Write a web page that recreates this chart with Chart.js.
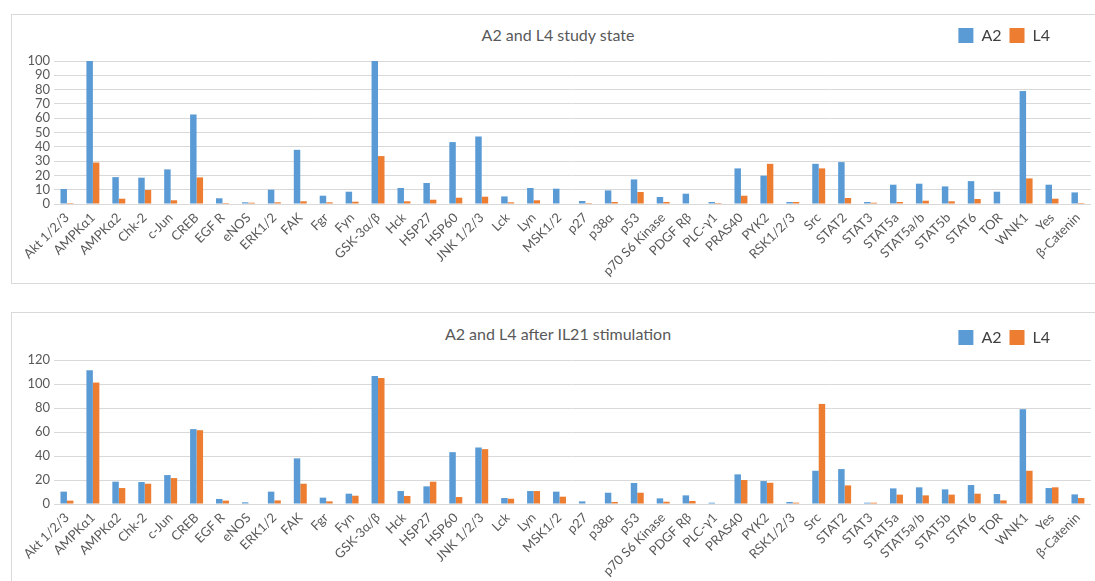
<!DOCTYPE html>
<html>
<head>
<meta charset="utf-8">
<script src="https://cdn.jsdelivr.net/npm/chart.js@4.4.1/dist/chart.umd.min.js"></script>
<style>
  body { margin: 0; background: #fff; width: 1095px; height: 581px; overflow: hidden; position: relative; font-family: Lato, sans-serif; }
  .frame { position: absolute; left: 11px; width: 1100px; border: 1px solid #d9d9d9; box-sizing: border-box; }
  .title { position: absolute; left: 0; width: 1116px; text-align: center; font-size: 16px; line-height: 20px; color: #595959; }
  canvas { position: absolute; left: 0; }
</style>
</head>
<body>
<div class="frame" style="top:14px;height:270px"></div>
<div class="frame" style="top:312px;height:280px"></div>
<div class="title" style="top:25px">A2 and L4 study state</div>
<div class="title" style="top:324px">A2 and L4 after IL21 stimulation</div>
<canvas id="studyChart" width="1095" height="270" style="top:14px"></canvas>
<canvas id="il21Chart" width="1095" height="269" style="top:312px"></canvas>
<script>
// --- DATA ---
const categories = ['Akt 1/2/3', 'AMPKα1', 'AMPKα2', 'Chk-2', 'c-Jun', 'CREB', 'EGF R', 'eNOS', 'ERK1/2', 'FAK',
    'Fgr', 'Fyn', 'GSK-3α/β', 'Hck', 'HSP27', 'HSP60', 'JNK 1/2/3', 'Lck', 'Lyn', 'MSK1/2',
    'p27', 'p38α', 'p53', 'p70 S6 Kinase', 'PDGF Rβ', 'PLC-γ1', 'PRAS40', 'PYK2', 'RSK1/2/3', 'Src',
    'STAT2', 'STAT3', 'STAT5a', 'STAT5a/b', 'STAT5b', 'STAT6', 'TOR', 'WNK1', 'Yes', 'β-Catenin'];

const studyA2 = [10.5, 100, 18.8, 18.4, 24.2, 62.6, 4, 1.2, 10, 37.9,
    5.8, 8.6, 100, 11.2, 14.7, 43.3, 47.2, 5.3, 11.2, 10.7,
    2.1, 9.5, 17.2, 4.9, 7.2, 1.4, 24.9, 19.8, 1.4, 28.1,
    29.3, 1.4, 13.5, 14.2, 12.3, 16, 8.6, 79, 13.5, 8.1];
const studyL4 = [0.7, 29, 3.7, 9.8, 2.6, 18.6, 0.7, 0.9, 1.2, 1.9,
    1.2, 1.6, 33.5, 1.9, 3, 4.4, 5.1, 1.2, 2.6, 0,
    0.7, 1.4, 8.4, 1.4, 0, 0.7, 5.8, 28.1, 1.4, 24.9,
    4.2, 0.9, 1.4, 2.3, 1.9, 3.5, 0, 17.9, 3.7, 0.7];

const il21A2 = [10.3, 111.4, 18.6, 18.3, 24.1, 62.4, 4.2, 1.4, 10.3, 38,
    5.3, 8.6, 106.7, 10.8, 14.7, 43.2, 47.1, 5, 10.8, 10.3,
    2.2, 9.4, 17.5, 4.7, 7.2, 1.1, 24.7, 19.1, 1.7, 27.7,
    29.1, 1.1, 13, 13.9, 12.2, 15.8, 8.3, 79, 13.3, 8];
const il21L4 = [2.8, 101.2, 13.3, 16.9, 21.6, 61.5, 2.8, 0, 3, 16.9,
    2.2, 6.9, 105, 6.7, 18.6, 5.8, 45.7, 4.4, 10.8, 6.1,
    0, 1.7, 9.4, 1.9, 2.5, 0, 20, 17.7, 1.1, 83.4,
    15.5, 1.1, 7.8, 7.2, 7.8, 8.6, 3, 27.7, 13.9, 5];

const seriesNames = ['A2', 'L4'];
const seriesColors = ['#5b9bd5', '#ed7d31'];

// --- CHART SETUP ---
Chart.defaults.font.family = "Lato, 'Open Sans', sans-serif";
Chart.defaults.color = '#595959';

// legend sits on the same row as the title, so nudge it about
const legendTweak = (extraHeight, shiftX) => ({
    id: 'legendTweak',
    beforeInit(chart) {
        const fit = chart.legend.fit;
        chart.legend.fit = function () {
            fit.call(this);
            this.height += extraHeight;
        };
    },
    afterLayout(chart) {
        chart.legend.left -= shiftX;
        chart.legend.right -= shiftX;
    }
});

const makeChart = (id, a2, l4, yMax, yStep, padTop, extraHeight, axisHeight) => {
    new Chart(document.getElementById(id).getContext('2d'), {
        type: 'bar',
        data: {
            labels: categories,
            datasets: [
                { label: seriesNames[0], data: a2, backgroundColor: seriesColors[0], categoryPercentage: 0.5, barPercentage: 1 },
                { label: seriesNames[1], data: l4, backgroundColor: seriesColors[1], categoryPercentage: 0.5, barPercentage: 1 }
            ]
        },
        options: {
            responsive: false,
            animation: false,
            layout: { padding: { top: padTop, right: 2, left: 0, bottom: 0 } },
            plugins: {
                legend: {
                    position: 'top', align: 'end',
                    labels: { boxWidth: 15, boxHeight: 15, padding: 8, color: '#404040', font: { size: 16 } }
                },
                tooltip: { enabled: false }
            },
            scales: {
                x: {
                    grid: { display: false, drawTicks: false },
                    border: { color: '#d9d9d9' },
                    ticks: { minRotation: 45, maxRotation: 45, autoSkip: false, padding: 6, font: { size: 13 } },
                    afterFit: (scale) => { scale.height = axisHeight; }
                },
                y: {
                    min: 0, max: yMax,
                    grid: { color: '#d9d9d9', drawTicks: false },
                    border: { display: false },
                    ticks: { stepSize: yStep, autoSkip: false, padding: 4, font: { size: 13 } },
                    afterFit: (scale) => { scale.width = 54; }
                }
            }
        },
        plugins: [legendTweak(extraHeight, 35)]
    });
};

makeChart('studyChart', studyA2, studyL4, 100, 10, 5.5, 7.5, 80);
makeChart('il21Chart', il21A2, il21L4, 120, 20, 9.5, 4.5, 77);
</script>
</body>
</html>
